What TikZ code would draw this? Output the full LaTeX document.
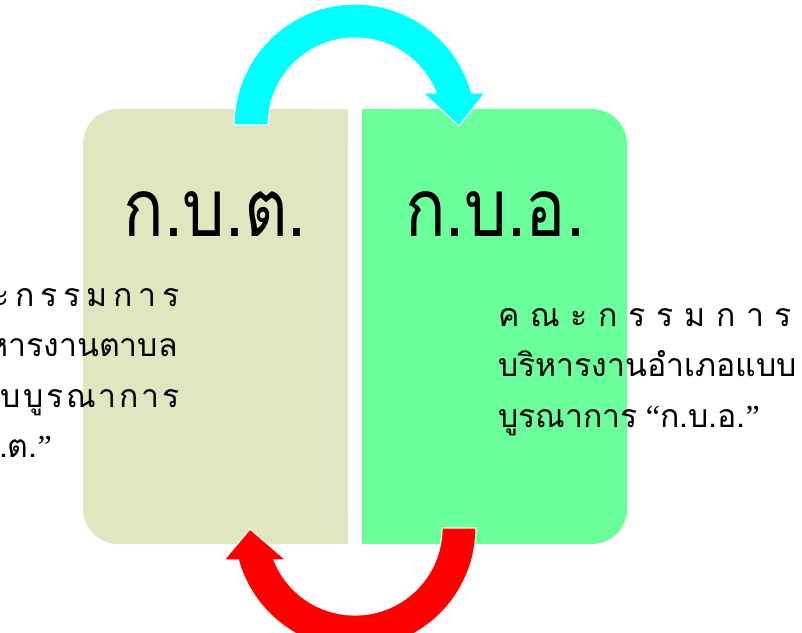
\documentclass[tikz,border=0pt]{standalone}
\usepackage{fontspec}
\newfontfamily\thaifont[Script=Thai]{Loma}
\newfontfamily\thaititle[Script=Thai, FakeStretch=0.84]{Loma}
\newfontfamily\quotefont{Liberation Serif}
\definecolor{kbtfill}{HTML}{E0E6C0}
\definecolor{kbofill}{HTML}{6BFF9B}
\definecolor{toparrow}{HTML}{00FFFF}
\definecolor{botarrow}{HTML}{FF0000}
\newcommand{\openq}{{\quotefont “}}
\newcommand{\closeq}{{\quotefont ”}}
\tikzset{
  title/.style={font=\thaititle\fontsize{80}{84}\selectfont, inner sep=0pt, anchor=base},
  body/.style={font=\thaifont\fontsize{32}{36}\selectfont, inner sep=0pt},
  bigarrow/.style={draw=white, line width=1.2pt, line join=miter},
}
\begin{document}
\begin{tikzpicture}[x=1pt, y=1pt]
\useasboundingbox (0,0) rectangle (802,632);
\clip (0,0) rectangle (802,632);

% panels
\fill[kbtfill, rounded corners=35pt] (83,88) rectangle (348,523);
\fill[kbtfill] (200,88) rectangle (348,523);
\fill[kbofill, rounded corners=35pt] (362,88) rectangle (627,523);
\fill[kbofill] (362,88) rectangle (500,523);

% titles
\node[title] (kbt-title) at (215,395) {ก.บ.ต.};
\node[title] (kbo-title) at (495,395) {ก.บ.อ.};

% left text
\node[body, anchor=base east] (kbt-l1) at (180,325) {\makebox[250pt]{ค\hfill ณ\hfill ะ\hfill ก\hfill ร\hfill ร\hfill ม\hfill ก\hfill า\hfill ร}};
\node[body, anchor=base east] (kbt-l2) at (178,275) {บริหารงานตาบล};
\node[body, anchor=base east] (kbt-l3) at (180,225) {\makebox[226pt]{แ\hfill บ\hfill บ\hfill บู\hfill ร\hfill ณ\hfill า\hfill ก\hfill า\hfill ร}};
\node[body, anchor=base east] (kbt-l4) at (52,175) {\openq ก.บ.ต.\closeq};

% right text
\node[body, anchor=base west] (kbo-l1) at (498,305) {\makebox[294pt]{ค\hfill ณ\hfill ะ\hfill ก\hfill ร\hfill ร\hfill ม\hfill ก\hfill า\hfill ร}};
\node[body, anchor=base west] (kbo-l2) at (498,255) {บริหารงานอำเภอแบบ};
\node[body, anchor=base west] (kbo-l3) at (498,205) {บูรณาการ\hspace{8pt}\openq ก.บ.อ.\closeq};

% top arrow
\filldraw[bigarrow, fill=toparrow] (234,507) arc[start angle=180, end angle=15.3, radius=121pt]
  -- (485,539) -- (459,506) -- (423,539) -- (436.1,539)
  arc[start angle=21.6, end angle=180, radius=87pt] -- cycle;

% bottom arrow
\filldraw[bigarrow, fill=botarrow] (476,104) arc[start angle=0, end angle=-164.7, radius=121pt]
  -- (224,72) -- (250,103) -- (286,72) -- (274.1,72)
  arc[start angle=-158.4, end angle=0, radius=87pt] -- cycle;
\end{tikzpicture}
\end{document}
